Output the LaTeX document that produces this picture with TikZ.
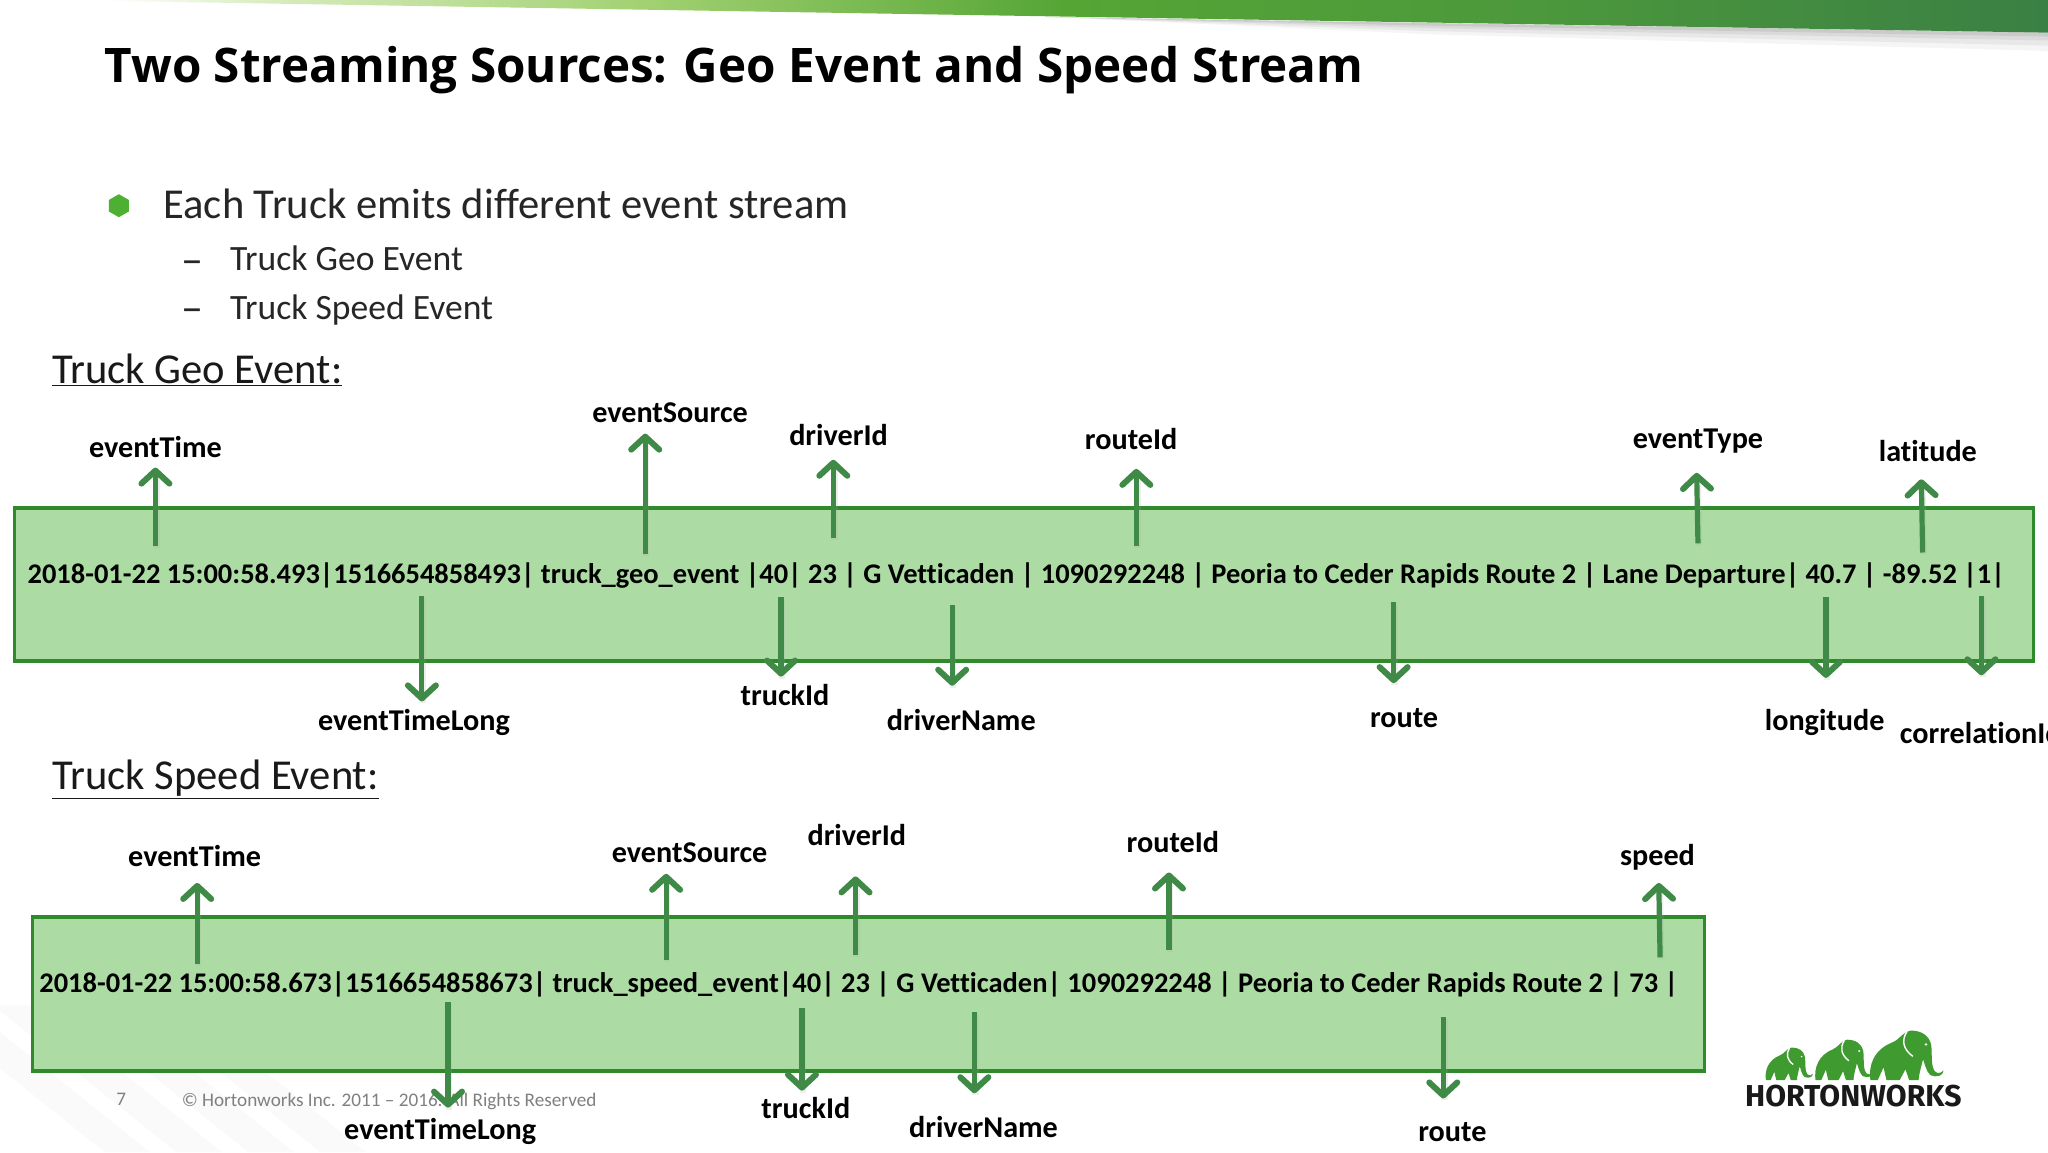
\documentclass[tikz,border=0pt]{standalone}
\usepackage{fontspec}
\setmainfont{Carlito}[Ligatures={NoCommon}]
\newfontfamily\titlefont{Open Sans}[BoldFont={Open Sans Bold}]
\newfontfamily\logofont{Fira Sans}
\usetikzlibrary{arrows.meta,shapes.geometric}
\definecolor{arrowgreen}{HTML}{3F8A47}
\definecolor{boxfill}{HTML}{ADDBA4}
\definecolor{boxline}{HTML}{2F8A2B}
\definecolor{bulletgreen}{HTML}{4DB033}
\definecolor{elegreen}{HTML}{3F9A30}
\definecolor{bannerp}{HTML}{D4EBBA}
\definecolor{bannera}{HTML}{A0D070}
\definecolor{bannerb}{HTML}{55A535}
\definecolor{bannerc}{HTML}{4C983C}
\definecolor{bannerd}{HTML}{3A8044}
\pgfdeclarehorizontalshading{bannershade}{100bp}{
  color(0bp)=(white);
  color(27.5bp)=(white);
  color(32bp)=(bannerp);
  color(41bp)=(bannera);
  color(51bp)=(bannerb);
  color(62.5bp)=(bannerc);
  color(75bp)=(bannerd);
  color(100bp)=(bannerd)}
\tikzset{
  x=1.30612pt,y=-1.30612pt,
  flow/.style={draw=arrowgreen,line width=5.2pt,
    -{Straight Barb[length=13pt,width=28pt,line width=6pt,round]}},
  flowshadow/.style={draw=black!35,opacity=.18,line width=6.5pt},
  field/.style={font=\fontsize{30.2}{32}\selectfont\bfseries,inner sep=0pt,text=black},
  record/.style={font=\fontsize{28.45}{30}\selectfont\bfseries,inner sep=0pt,anchor=west,text=black},
  eventbox/.style={draw=boxline,fill=boxfill,line width=3.2pt,inner sep=0pt},
  heading/.style={font=\fontsize{42.6}{44}\selectfont,inner sep=0pt,anchor=west,text=black!90},
  subitem/.style={font=\fontsize{35.6}{37}\selectfont,inner sep=0pt,anchor=west,text=black!85},
  dashitem/.style={font=\fontsize{44}{46}\selectfont,inner sep=0pt,anchor=west,text=black!85},
  foot/.style={font=\fontsize{19.2}{21}\selectfont,inner sep=0pt,anchor=west,text=black!50},
  pics/elephant/.style={code={
    \fill[elegreen] (0,0) .. controls (-.03,.3) and (.05,.62) .. (.3,.76)
      .. controls (.4,.82) and (.45,.98) .. (.55,1)
      .. controls (.7,1) and (.8,.9) .. (.83,.72)
      .. controls (.85,.55) and (.82,.3) .. (.88,.18)
      .. controls (.92,.12) and (.97,.14) .. (1,.2)
      .. controls (1,.08) and (.9,.05) .. (.82,.1)
      .. controls (.76,.18) and (.74,.35) .. (.72,.42)
      .. controls (.7,.3) and (.66,.1) .. (.66,0)
      -- (.53,0) -- (.48,.22) -- (.4,0) -- (.22,0) -- (.18,.26) -- (.1,0) -- cycle;
    \draw[white,line width=1.4pt] (.5,.98) .. controls (.42,.8) and (.45,.62) .. (.58,.48);
    \fill[white] (.76,.72) circle[x radius=.02,y radius=.025];
  }}
}
\newcommand{\flowlink}[4]{%
  \coordinate (#1t) at (#2);\coordinate (#1h) at (#3);
  \draw[flowshadow] ([xshift=1pt,yshift=-2pt]#1t) -- ([xshift=1pt,yshift=-2pt]#1h);
  \draw[flow] (#1t) -- (#1h);
  \node[field] (#1l) at (#4) {#1};}
\newcommand{\flowlinkb}[5]{%
  \coordinate (#1t) at (#2);\coordinate (#1h) at (#3);
  \draw[flowshadow] ([xshift=1pt,yshift=-2pt]#1t) -- ([xshift=1pt,yshift=-2pt]#1h);
  \draw[flow] (#1t) -- (#1h);
  \node[field] (#1l) at (#4) {#5};}
\begin{document}
\begin{tikzpicture}
\useasboundingbox (0,0) rectangle (1568,882);
\clip (0,0) rectangle (1568,882);
\fill[white] (0,0) rectangle (1568,882);
% faint background stripes, bottom left
\foreach \d in {0,55,110,165}{
  \fill[black,opacity=.02] (-60+\d,770) -- (-25+\d,770) -- (115+\d,882) -- (80+\d,882) -- cycle;
}
% banner shadow
\foreach \o/\a in {3/.07,6/.06,10/.05,14/.04}{
  \fill[black,opacity=\a] (800,13) -- (1568,25) -- (1568,25+\o) -- (1100,18+\o*.6) -- cycle;
}
% banner
\begin{scope}
  \clip (40,0) -- (1568,0) -- (1568,25) -- cycle;
  \shade[shading=bannershade] (0,-2) rectangle (1568,30);
\end{scope}
% title and bullets
\node[font=\titlefont\fontsize{47.6}{52}\selectfont\bfseries,inner sep=0pt,anchor=west,text=black] (title) at (80,54) {Two Streaming Sources: Geo Event and Speed Stream};
\node[regular polygon,regular polygon sides=6,shape border rotate=30,fill=bulletgreen,minimum size=23pt,inner sep=0pt] (bul) at (91,157.5) {};
\node[font=\fontsize{42.6}{44}\selectfont,inner sep=0pt,anchor=west,text=black!85] (b1) at (125,156) {Each Truck emits different event stream};
\node[dashitem] (d1) at (139,205) {–};
\node[subitem] (s1) at (176,198) {Truck Geo Event};
\node[dashitem] (d2) at (139,242) {–};
\node[subitem] (s2) at (176,237) {Truck Speed Event};
\node[heading] (h1) at (40,283) {\underline{Truck Geo Event:}};
\node[heading] (h2) at (40,596.5) {\underline{Truck Speed Event:}};
% boxes
\node[eventbox,minimum width=2019pt,minimum height=153pt] (geobox) at (784,447.5) {};
\node[eventbox,minimum width=1672pt,minimum height=154pt] (speedbox) at (665,761) {};
\node[record] (georow) at (21,440.5) {2018-01-22 15:00:58.493|1516654858493| truck\_geo\_event |40| 23 | G Vetticaden | 1090292248 | Peoria to Ceder Rapids Route 2 | Lane Departure| 40.7 | -89.52 |1|};
\node[record] (speedrow) at (30,754) {2018-01-22 15:00:58.673|1516654858673| truck\_speed\_event|40| 23 | G Vetticaden| 1090292248 | Peoria to Ceder Rapids Route 2 | 73 |};
% footer
\node[foot] (page) at (89,842) {7};
\node[foot] (copy) at (139,843) {© Hortonworks Inc. 2011 – 2016. All Rights Reserved};
% geo fields
\flowlink{eventTime}{119,418}{119,358}{119,342}
\flowlink{eventSource}{494,424}{494,332}{513,316}
\flowlink{driverId}{638,412}{638,352}{642,333}
\flowlink{routeId}{870,418}{870,359}{866,336}
\flowlink{eventType}{1300,416}{1299,362}{1300,338}
\flowlink{latitude}{1472,423}{1471,367}{1476,345}
\flowlink{eventTimeLong}{323,456}{323,537}{317,553}
\flowlink{truckId}{598,457}{598,518}{601,532}
\flowlink{driverName}{729,463}{729,525}{736,551}
\flowlink{route}{1067,461}{1067,523}{1075,550}
\flowlink{longitude}{1398,457}{1398,519}{1397,553}
\flowlinkb{corr}{1517,456}{1517,517}{1516.5,561}{correlationId}
% speed fields
\flowlinkb{a}{151,738}{151,676}{149,655}{eventTime}
\flowlinkb{b}{510,735}{510,669}{528,653}{eventSource}
\flowlinkb{c}{655,731}{655,671}{656,639}{driverId}
\flowlinkb{d}{895,727}{895,668}{898,645}{routeId}
\flowlinkb{e}{1271,733}{1270,676}{1269,656}{speed}
\flowlinkb{f}{343,767}{343,848}{337,866}{eventTimeLong}
\flowlinkb{g}{614,772}{614,835}{617,848}{truckId}
\flowlinkb{h}{746,775}{746,837}{753,863}{driverName}
\flowlinkb{i}{1105,779}{1105,841}{1112,867}{route}
% logo
\pic[xscale=36,yscale=-25] at (1352,827) {elephant};
\pic[xscale=44,yscale=-31] at (1390,827) {elephant};
\pic[xscale=56,yscale=-38] at (1432,827) {elephant};
\node[font=\logofont\fontsize{30.2}{32}\selectfont\bfseries,inner sep=0pt,anchor=west,text=black!90] (logo) at (1336,839) {HORTONWORKS};
\end{tikzpicture}
\end{document}
